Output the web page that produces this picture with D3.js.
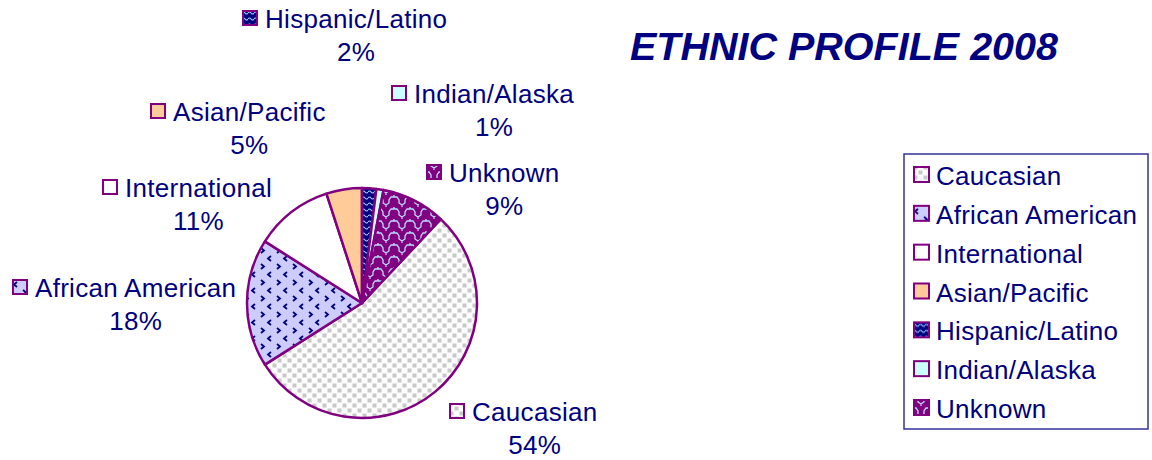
<!DOCTYPE html>
<html>
<head>
<meta charset="utf-8">
<script src="https://cdn.jsdelivr.net/npm/d3@7"></script>
<style>
  body { margin: 0; background: #fff; }
  text { font-family: Arial, "Liberation Sans", sans-serif; fill: #000080; }
</style>
</head>
<body>
<svg width="1152" height="460"></svg>
<script>
// data
let categories = ["Caucasian", "African American", "International", "Asian/Pacific", "Hispanic/Latino", "Indian/Alaska", "Unknown"]
let percents = [54, 18, 11, 5, 2, 1, 9]
let title = "ETHNIC PROFILE 2008"

// fills for each slice (solid colour or pattern id)
let fills = ["url(#pCauc)", "url(#pAfr)", "#ffffff", "#ffcc99", "url(#pHisp)", "#ccffff", "url(#pUnk)"]

// where each data label block sits: [left of key, baseline of name]
let labelAnchor = [[449, 421], [12, 297], [102, 197], [150, 121], [242, 28], [391, 103], [426, 182]]

var svg = d3.select("svg")
var defs = svg.append("defs")

// caucasian: grey dotted squares
var p1 = defs.append("pattern").attr("id", "pCauc").attr("patternUnits", "userSpaceOnUse")
  .attr("width", 10).attr("height", 10)
p1.append("rect").attr("width", 10).attr("height", 10).attr("fill", "#fdfdfd")
p1.append("rect").attr("x", 0.5).attr("y", 0.5).attr("width", 4).attr("height", 4).attr("fill", "#c8c8c8")
p1.append("rect").attr("x", 5.5).attr("y", 5.5).attr("width", 4).attr("height", 4).attr("fill", "#c8c8c8")

// african american: lavender with little chevrons
var p2 = defs.append("pattern").attr("id", "pAfr").attr("patternUnits", "userSpaceOnUse")
  .attr("width", 16).attr("height", 16)
p2.append("rect").attr("width", 16).attr("height", 16).attr("fill", "#ccccff")
p2.append("path").attr("d", "M5,1 L2,3.5 L5,6 M11,9 L14,11.5 L11,14")
  .attr("fill", "none").attr("stroke", "#000080").attr("stroke-width", 1.8)

// hispanic: navy with light blue waves
var p3 = defs.append("pattern").attr("id", "pHisp").attr("patternUnits", "userSpaceOnUse")
  .attr("width", 6).attr("height", 6)
p3.append("rect").attr("width", 6).attr("height", 6).attr("fill", "#000080")
p3.append("path").attr("d", "M0,3 Q1.5,1 3,3 T6,3")
  .attr("fill", "none").attr("stroke", "#99ccff").attr("stroke-width", 1.2)

// unknown: purple with light stepped shingles
var p4 = defs.append("pattern").attr("id", "pUnk").attr("patternUnits", "userSpaceOnUse")
  .attr("width", 16).attr("height", 12)
p4.append("rect").attr("width", 16).attr("height", 12).attr("fill", "#800080")
p4.append("path").attr("d", "M0,2 L3,2 L5,5 L5,8 L8,10 L11,8 L11,5 L13,2 L16,2 M8,10 L8,12 M0,2 L0,0 M16,2 L16,0")
  .attr("fill", "none").attr("stroke", "#bbddff").attr("stroke-width", 1.3)

// pie
var cx = 362, cy = 303, radius = 115
var start = 43.2 * Math.PI / 180

var pie = d3.pie().sort(null).value(d => d)
  .startAngle(start).endAngle(start + 2 * Math.PI)
var arc = d3.arc().innerRadius(0).outerRadius(radius)

var g = svg.append("g").attr("transform", "translate(" + cx + "," + cy + ")")
g.selectAll("path")
  .data(pie(percents))
  .enter().append("path")
  .attr("d", arc)
  .attr("fill", (d, i) => fills[i])
  .attr("stroke", "#800080")
  .attr("stroke-width", 2.5)
  .attr("stroke-linejoin", "round")

// data labels
var fontSize = 26
var spacing = "0.3px"
var lab = svg.selectAll(".lab")
  .data(categories)
  .enter().append("g").attr("class", "lab")
  .attr("transform", (d, i) => "translate(" + labelAnchor[i][0] + "," + labelAnchor[i][1] + ")")

lab.append("rect")
  .attr("x", 1).attr("y", -17).attr("width", 14).attr("height", 14)
  .attr("fill", (d, i) => fills[i])
  .attr("stroke", "#800080").attr("stroke-width", 2)

lab.append("text")
  .attr("class", "nm")
  .attr("x", 23).attr("y", 0)
  .style("font-size", fontSize + "px")
  .style("letter-spacing", spacing)
  .text(d => d)

lab.each(function(d, i) {
  var node = d3.select(this)
  var w = node.select(".nm").node().getComputedTextLength()
  node.append("text")
    .attr("x", 23 + w / 2).attr("y", 33)
    .attr("text-anchor", "middle")
    .style("font-size", fontSize + "px")
    .style("letter-spacing", spacing)
    .text(percents[i] + "%")
})

// title
svg.append("text")
  .attr("x", 844).attr("y", 60)
  .attr("text-anchor", "middle")
  .style("font-size", "39.5px")
  .style("font-weight", "bold")
  .style("font-style", "italic")
  .text(title)

// legend
var lx = 904, ly = 154
svg.append("rect")
  .attr("x", lx).attr("y", ly).attr("width", 244).attr("height", 275)
  .attr("fill", "#fff").attr("stroke", "#333399").attr("stroke-width", 1.5)

var legendY = d3.scalePoint().domain(categories).range([185, 418])

var leg = svg.selectAll(".leg")
  .data(categories)
  .enter().append("g").attr("class", "leg")
  .attr("transform", d => "translate(" + (lx + 9) + "," + legendY(d) + ")")

leg.append("rect")
  .attr("x", 1).attr("y", -18).attr("width", 15).attr("height", 15)
  .attr("fill", (d, i) => fills[i])
  .attr("stroke", "#800080").attr("stroke-width", 2)

leg.append("text")
  .attr("x", 23).attr("y", 0)
  .style("font-size", fontSize + "px")
  .style("letter-spacing", spacing)
  .text(d => d)
</script>
</body>
</html>
